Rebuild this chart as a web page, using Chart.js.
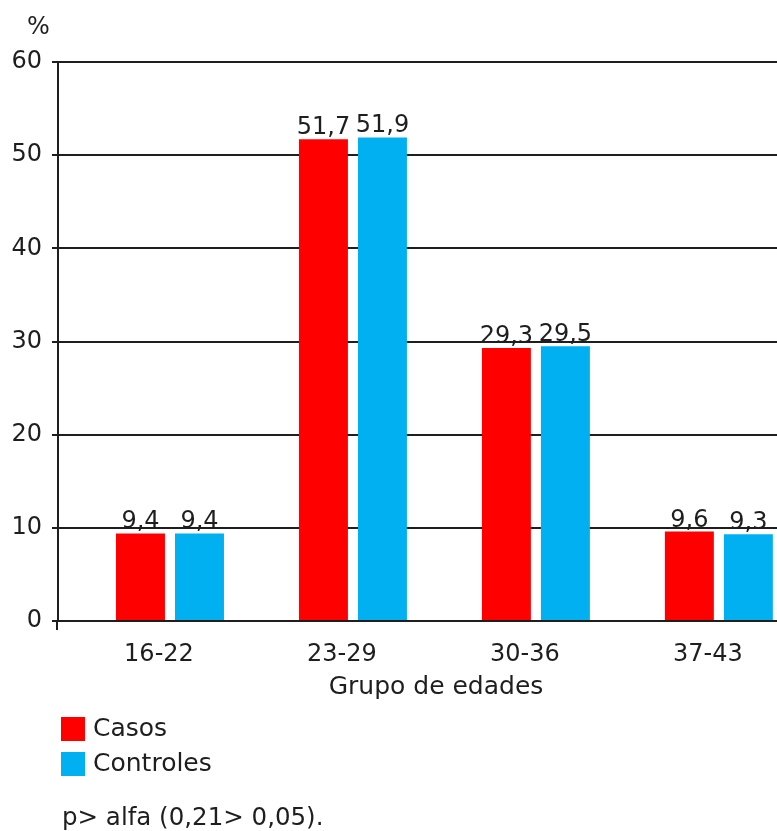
<!DOCTYPE html>
<html>
<head>
<meta charset="utf-8">
<script src="https://cdn.jsdelivr.net/npm/chart.js@4/dist/chart.umd.min.js"></script>
<style>
  html, body { margin: 0; padding: 0; overflow: hidden; background: #fff; }
  #wrap { width: 814px; height: 831px; }
</style>
</head>
<body>
<div id="wrap"><canvas id="c" width="814" height="831"></canvas></div>
<script>
// Age groups and percentages per group
const categories = ['16-22', '23-29', '30-36', '37-43'];
const casos = [9.4, 51.7, 29.3, 9.6];
const controles = [9.4, 51.9, 29.5, 9.3];
const seriesNames = ['Casos', 'Controles'];
const yTicks = [0, 10, 20, 30, 40, 50, 60];
const xTitle = 'Grupo de edades';
const yUnit = '%';
const footnote = 'p> alfa (0,21> 0,05).';

const INK = '#1e1e1e';
const FONT = '"DejaVu Sans", Verdana, sans-serif';
const COLORS = ['#ff0000', '#00b0f0'];

const fmt = v => v.toFixed(1).replace('.', ',');
const toPoints = arr => arr.map((v, i) => ({ x: i, y: v }));

// value labels, unit, legend and note
const extras = {
  id: 'extras',
  afterDatasetsDraw(chart) {
    const ctx = chart.ctx;
    ctx.save();
    ctx.font = '24px ' + FONT;
    ctx.fillStyle = INK;
    ctx.textAlign = 'center';
    ctx.textBaseline = 'alphabetic';
    chart.data.datasets.forEach((ds, di) => {
      chart.getDatasetMeta(di).data.forEach((bar, i) => {
        ctx.fillText(fmt(ds.data[i].y), bar.x, bar.y - 5);
      });
    });
    ctx.restore();
  },
  afterDraw(chart) {
    const { ctx, chartArea, scales } = chart;
    ctx.save();
    ctx.fillStyle = INK;
    ctx.strokeStyle = INK;

    // short stub of the value axis below zero
    ctx.lineWidth = 2;
    ctx.beginPath();
    ctx.moveTo(scales.x.left - 1, chartArea.bottom);
    ctx.lineTo(scales.x.left - 1, chartArea.bottom + 9);
    ctx.stroke();

    // unit label above the value axis
    ctx.font = '24px ' + FONT;
    ctx.textAlign = 'left';
    ctx.textBaseline = 'middle';
    ctx.fillText(yUnit, 27, 28);

    // legend, one entry per row
    ctx.font = '25px ' + FONT;
    chart.data.datasets.forEach((ds, i) => {
      const top = 717 + i * 35;
      ctx.fillStyle = ds.backgroundColor;
      ctx.fillRect(61, top, 24, 24);
      ctx.fillStyle = INK;
      ctx.fillText(ds.label, 93, top + 12);
    });

    // note
    ctx.font = '24.5px ' + FONT;
    ctx.textBaseline = 'alphabetic';
    ctx.fillText(footnote, 62, 825);
    ctx.restore();
  }
};

new Chart(document.getElementById('c'), {
  type: 'bar',
  data: {
    datasets: [
      { label: seriesNames[0], data: toPoints(casos), backgroundColor: COLORS[0] },
      { label: seriesNames[1], data: toPoints(controles), backgroundColor: COLORS[1] }
    ]
  },
  options: {
    responsive: false,
    animation: false,
    devicePixelRatio: 1,
    barPercentage: 0.83,
    categoryPercentage: 0.645,
    layout: { padding: { top: 62, left: 0, right: 0, bottom: 129 } },
    plugins: { legend: { display: false }, tooltip: { enabled: false } },
    scales: {
      x: {
        type: 'linear',
        offset: false,
        min: -0.612,
        max: 3.52,
        afterBuildTicks: s => { s.ticks = categories.map((_, i) => ({ value: i })); },
        afterFit: s => { s.height = 81; },
        grid: { display: false, offset: false },
        border: { display: true, color: INK, width: 2 },
        ticks: {
          padding: 11,
          labelOffset: -11,
          color: INK,
          font: { family: FONT, size: 24 },
          maxRotation: 0,
          callback: v => categories[v] ?? ''
        },
        title: {
          display: true,
          text: xTitle,
          color: INK,
          font: { family: FONT, size: 25 },
          padding: { top: 0, bottom: 0 }
        }
      },
      y: {
        min: 0,
        max: 60,
        afterBuildTicks: s => { s.ticks = yTicks.map(v => ({ value: v })); },
        afterFit: s => { s.width = 58; },
        grid: { color: INK, lineWidth: 2, tickLength: 6, drawTicks: true },
        border: { display: true, color: INK, width: 2 },
        ticks: {
          padding: 10,
          color: INK,
          font: { family: FONT, size: 24 }
        }
      }
    }
  },
  plugins: [extras]
});
</script>
</body>
</html>
